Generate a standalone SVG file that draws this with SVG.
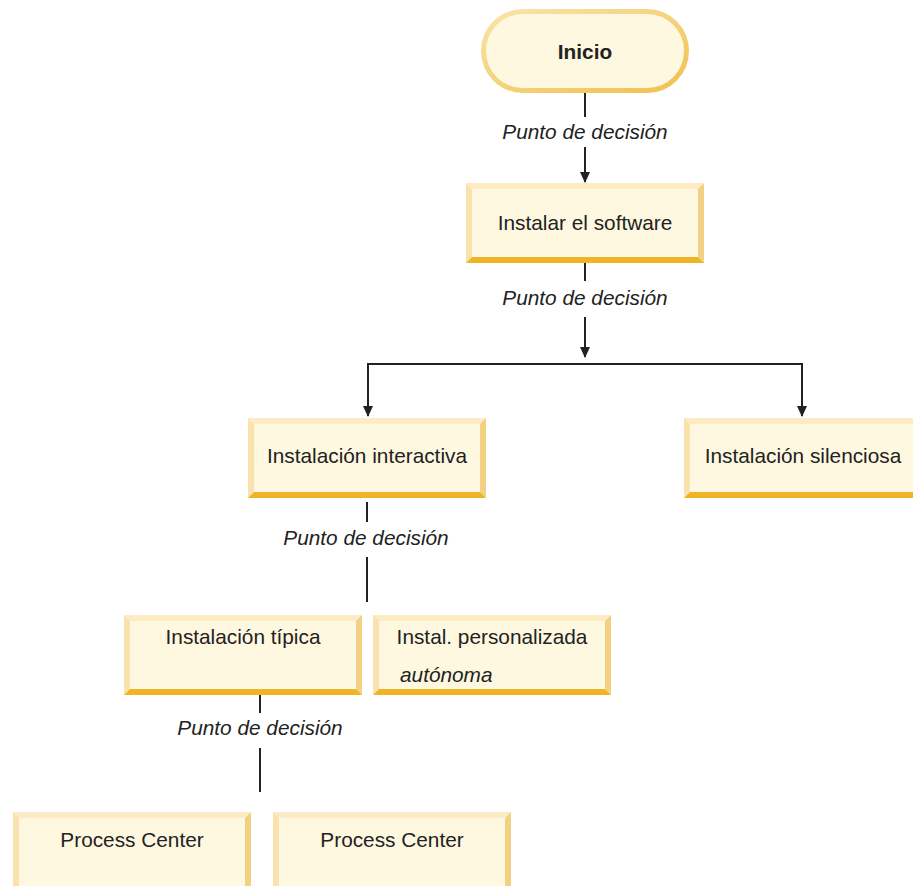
<svg xmlns="http://www.w3.org/2000/svg" xmlns:xlink="http://www.w3.org/1999/xlink" width="913" height="886" viewBox="0 0 913 886">
  <style>
    .lbl { font-family: "Liberation Sans", Arial, Helvetica, sans-serif; font-size: 20.8px; fill: #222; text-anchor: middle; }
    .bold { font-weight: bold; }
    .it { font-style: italic; }
    .wire { stroke: #222; stroke-width: 2; fill: none; }
    .face { fill: #fff8e0; }
  </style>
  <defs>
    <linearGradient id="pillEdge" x1="0" y1="0" x2="1" y2="1">
      <stop offset="0" stop-color="#f9e4ab"/>
      <stop offset="1" stop-color="#f1c14f"/>
    </linearGradient>
    <marker id="arrow" markerUnits="userSpaceOnUse" markerWidth="11" markerHeight="10" refX="10" refY="5" orient="auto-start-reverse" viewBox="0 0 11 10">
      <path d="M0,0 L11,5 L0,10 Z" fill="#222"/>
    </marker>
    <!-- bevelled process box, 238 x 80 -->
    <g id="box">
      <rect class="face" x="0" y="0" width="238" height="80"/>
      <polygon points="0,0 238,0 232,6 6,6" fill="#fcebc4"/>
      <polygon points="0,0 6,6 6,74 0,80" fill="#f9e2ad"/>
      <polygon points="238,0 238,80 232,74 232,6" fill="#f3d182"/>
      <polygon points="0,80 6,74 232,74 238,80" fill="#efb526"/>
    </g>
  </defs>

  <!-- connectors -->
  <g id="connectors">
    <line class="wire" x1="585" y1="93" x2="585" y2="117"/>
    <path class="wire" d="M585,147 V182" marker-end="url(#arrow)"/>
    <line class="wire" x1="585" y1="263" x2="585" y2="281"/>
    <path class="wire" d="M585,317 V357" marker-end="url(#arrow)"/>
    <path class="wire" d="M368,416 V364 H802 V416" marker-start="url(#arrow)" marker-end="url(#arrow)"/>
    <line class="wire" x1="367" y1="502" x2="367" y2="522"/>
    <line class="wire" x1="367" y1="557" x2="367" y2="602"/>
    <line class="wire" x1="260" y1="694" x2="260" y2="713"/>
    <line class="wire" x1="260" y1="748" x2="260" y2="792"/>
    <text class="lbl it" x="585" y="139">Punto de decisión</text>
    <text class="lbl it" x="585" y="305">Punto de decisión</text>
    <text class="lbl it" x="366" y="545">Punto de decisión</text>
    <text class="lbl it" x="260" y="735">Punto de decisión</text>
  </g>

  <g id="inicio">
    <rect x="483.5" y="11.5" width="203" height="79" rx="39.5" fill="#fff8e0" stroke="url(#pillEdge)" stroke-width="5"/>
    <text class="lbl bold" x="585" y="59">Inicio</text>
  </g>

  <g id="instalar-software">
    <use xlink:href="#box" x="466" y="183"/>
    <text class="lbl" x="585" y="230">Instalar el software</text>
  </g>

  <g id="instalacion-interactiva">
    <use xlink:href="#box" x="248" y="418"/>
    <text class="lbl" x="367" y="463">Instalación interactiva</text>
  </g>

  <g id="instalacion-silenciosa">
    <use xlink:href="#box" x="684" y="418"/>
    <text class="lbl" x="803" y="463">Instalación silenciosa</text>
  </g>

  <g id="instalacion-tipica">
    <use xlink:href="#box" x="124" y="615"/>
    <text class="lbl" x="243" y="644">Instalación típica</text>
  </g>

  <g id="instal-personalizada">
    <use xlink:href="#box" x="373" y="615"/>
    <text class="lbl" x="492" y="644">Instal. personalizada</text>
    <text class="lbl it" x="400" y="682" style="text-anchor:start">autónoma</text>
  </g>

  <g id="process-center-1">
    <use xlink:href="#box" x="13" y="812"/>
    <text class="lbl" x="132" y="847">Process Center</text>
  </g>

  <g id="process-center-2">
    <use xlink:href="#box" x="273" y="812"/>
    <text class="lbl" x="392" y="847">Process Center</text>
  </g>
</svg>
